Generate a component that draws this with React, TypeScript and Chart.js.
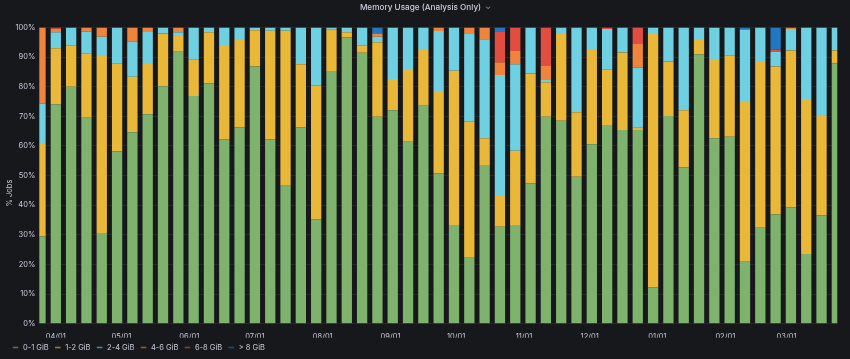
import React, { useEffect, useRef } from "react";
import { Chart, registerables } from "chart.js";

Chart.register(...registerables);

const TITLE = "Memory Usage (Analysis Only)";
const Y_TITLE = "% Jobs";

const WEEKS = [
  "2022-03-25", "2022-04-01", "2022-04-08", "2022-04-15", "2022-04-22", "2022-04-29",
  "2022-05-06", "2022-05-13", "2022-05-20", "2022-05-27", "2022-06-03", "2022-06-10",
  "2022-06-17", "2022-06-24", "2022-07-01", "2022-07-08", "2022-07-15", "2022-07-22",
  "2022-07-29", "2022-08-05", "2022-08-12", "2022-08-19", "2022-08-26", "2022-09-02",
  "2022-09-09", "2022-09-16", "2022-09-23", "2022-09-30", "2022-10-07", "2022-10-14",
  "2022-10-21", "2022-10-28", "2022-11-04", "2022-11-11", "2022-11-18", "2022-11-25",
  "2022-12-02", "2022-12-09", "2022-12-16", "2022-12-23", "2022-12-30", "2023-01-06",
  "2023-01-13", "2023-01-20", "2023-01-27", "2023-02-03", "2023-02-10", "2023-02-17",
  "2023-02-24", "2023-03-03", "2023-03-10", "2023-03-17", "2023-03-24",
];

const MONTH_TICKS = [
  "2022-04-01", "2022-05-01", "2022-06-01", "2022-07-01", "2022-08-01", "2022-09-01",
  "2022-10-01", "2022-11-01", "2022-12-01", "2023-01-01", "2023-02-01", "2023-03-01",
];
const MONTH_LABELS = ["04/01", "05/01", "06/01", "07/01", "08/01", "09/01", "10/01", "11/01", "12/01", "01/01", "02/01", "03/01"];

const SERIES_NAMES = ["0-1 GiB", "1-2 GiB", "2-4 GiB", "4-6 GiB", "6-8 GiB", "> 8 GiB"];
const SERIES_COLORS = ["#7EB26D", "#EAB839", "#6ED0E0", "#EF843C", "#E24D42", "#1F78C1"];

const GIB_0_1 = [
  29.4, 74.1, 80.0, 69.5, 30.6, 58.1, 64.6, 70.7, 80.2, 91.8, 76.9, 81.2, 62.3, 66.3, 86.8, 62.3, 46.6, 66.3,
  35.3, 85.3, 96.6, 91.5, 69.9, 72.1, 61.4, 73.6, 50.8, 33.3, 22.3, 53.6, 32.7, 33.3, 47.4, 69.9, 68.5, 49.6,
  60.6, 67.1, 65.4, 65.4, 12.3, 70.1, 52.7, 91.0, 62.6, 63.1, 20.9, 32.4, 36.9, 39.3, 23.5, 36.5, 87.9,
];
const GIB_1_2 = [
  31.3, 18.9, 13.8, 21.8, 59.8, 29.8, 18.8, 17.0, 17.8, 5.3, 12.4, 17.2, 31.8, 29.5, 12.3, 36.6, 52.3, 21.3,
  45.0, 13.9, 1.8, 2.3, 25.1, 10.5, 24.6, 18.8, 27.8, 52.1, 45.9, 9.0, 10.4, 25.1, 37.1, 11.6, 29.3, 21.8,
  31.8, 18.6, 26.2, 0.9, 85.5, 18.4, 19.4, 4.8, 26.4, 27.4, 54.3, 56.3, 49.9, 52.9, 52.4, 33.6, 4.3,
];
const GIB_2_4 = [
  13.6, 5.4, 6.2, 7.3, 6.5, 12.1, 11.8, 10.8, 2.0, 1.3, 10.7, 1.6, 5.9, 4.2, 0.9, 1.1, 1.1, 12.4,
  19.7, 0.8, 1.6, 6.2, 1.9, 17.4, 14.0, 7.6, 20.2, 14.6, 29.6, 33.4, 40.9, 29.2, 15.5, 0.8, 2.2, 28.6,
  7.6, 13.8, 8.4, 20.1, 2.2, 11.5, 27.9, 4.2, 11.0, 9.5, 24.1, 11.3, 4.9, 7.3, 24.1, 29.9, 7.8,
];
const GIB_4_6 = [
  25.7, 1.2, 0, 1.4, 3.1, 0, 4.8, 1.5, 0, 1.6, 0, 0, 0, 0, 0, 0, 0, 0,
  0, 0, 0, 0, 1.1, 0, 0, 0, 1.2, 0, 2.2, 4.0, 4.3, 4.5, 0, 4.7, 0, 0,
  0, 0, 0, 8.0, 0, 0, 0, 0, 0, 0, 0, 0, 0, 0.5, 0, 0, 0,
];
const GIB_6_8 = [
  0, 0.4, 0, 0, 0, 0, 0, 0, 0, 0, 0, 0, 0, 0, 0, 0, 0, 0,
  0, 0, 0, 0, 0, 0, 0, 0, 0, 0, 0, 0, 10.2, 7.9, 0, 13.0, 0, 0,
  0, 0.5, 0, 5.6, 0, 0, 0, 0, 0, 0, 0, 0, 0.9, 0, 0, 0, 0,
];
const GIB_8_PLUS = [
  0, 0, 0, 0, 0, 0, 0, 0, 0, 0, 0, 0, 0, 0, 0, 0, 0, 0,
  0, 0, 0, 0, 2.0, 0, 0, 0, 0, 0, 0, 0, 1.5, 0, 0, 0, 0, 0,
  0, 0, 0, 0, 0, 0, 0, 0, 0, 0, 0.7, 0, 7.4, 0, 0, 0, 0,
];

const SERIES_VALUES = [GIB_0_1, GIB_1_2, GIB_2_4, GIB_4_6, GIB_6_8, GIB_8_PLUS];

const BG = "#17181c";
const TEXT = "#ccccdc";
const FONT = "Inter";

const toDay = (s: string) => Date.parse(s + "T00:00:00Z") / 86400000;

const withAlpha = (hex: string, a: number) => {
  const n = parseInt(hex.slice(1), 16);
  return `rgba(${(n >> 16) & 255},${(n >> 8) & 255},${n & 255},${a})`;
};

const overlayPlugin = {
  id: "overlay",
  afterDraw(chart: any) {
    const ctx = chart.ctx as CanvasRenderingContext2D;
    ctx.save();
    ctx.textBaseline = "middle";
    ctx.textAlign = "left";
    ctx.fillStyle = TEXT;

    // panel title + chevron
    ctx.font = `500 8.2px ${FONT}`;
    const tw = ctx.measureText(TITLE).width;
    const total = tw + 9;
    const x0 = chart.width / 2 - total / 2;
    ctx.fillText(TITLE, x0, 7.5);
    const cx = x0 + tw + 7;
    ctx.strokeStyle = TEXT;
    ctx.lineWidth = 0.8;
    ctx.beginPath();
    ctx.moveTo(cx - 1.8, 6.8);
    ctx.lineTo(cx, 8.6);
    ctx.lineTo(cx + 1.8, 6.8);
    ctx.stroke();

    // y axis title
    ctx.save();
    ctx.font = `7.5px ${FONT}`;
    ctx.translate(10, 193);
    ctx.rotate(-Math.PI / 2);
    ctx.textAlign = "center";
    ctx.fillText(Y_TITLE, 0, 0);
    ctx.restore();

    // legend
    ctx.font = `7.5px ${FONT}`;
    let x = 12.7;
    const y = 347.5;
    SERIES_NAMES.forEach((name, i) => {
      ctx.strokeStyle = withAlpha(SERIES_COLORS[i], 0.6);
      ctx.lineWidth = 1.6;
      ctx.beginPath();
      ctx.moveTo(x, y);
      ctx.lineTo(x + 5.6, y);
      ctx.stroke();
      x += 5.6 + 4.7;
      ctx.fillStyle = TEXT;
      ctx.fillText(name, x, y);
      x += ctx.measureText(name).width + 6.3;
    });
    ctx.restore();
  },
};

const bgPlugin = {
  id: "bg",
  beforeDraw(chart: any) {
    const ctx = chart.ctx;
    ctx.save();
    ctx.fillStyle = BG;
    ctx.fillRect(0, 0, chart.width, chart.height);
    ctx.restore();
  },
};

export default function App() {
  const ref = useRef<HTMLCanvasElement | null>(null);

  useEffect(() => {
    if (!ref.current) return;
    const days = WEEKS.map(toDay);
    const chart = new Chart(ref.current, {
      type: "bar",
      data: {
        datasets: SERIES_NAMES.map((name, si) => ({
          label: name,
          data: SERIES_VALUES[si].map((v, i) => ({ x: days[i], y: v })),
          backgroundColor: SERIES_COLORS[si],
          borderWidth: 0,
          categoryPercentage: 1,
          barPercentage: 0.673,
          clip: 0,
        })),
      },
      options: {
        animation: false,
        responsive: true,
        maintainAspectRatio: false,
        layout: { padding: { left: 0, right: 12.7, top: 27.5, bottom: 21.3 } },
        plugins: {
          legend: { display: false },
          title: { display: false },
          tooltip: { enabled: false },
        },
        scales: {
          x: {
            type: "linear",
            stacked: true,
            offset: false,
            min: days[0] - 0.55,
            max: days[days.length - 1] + 0.2,
            grid: { display: false, offset: false },
            border: { display: false },
            afterBuildTicks: (scale: any) => {
              scale.ticks = MONTH_TICKS.map((d) => ({ value: toDay(d) }));
            },
            ticks: {
              autoSkip: false,
              maxRotation: 0,
              color: TEXT,
              font: { family: FONT, size: 7.5 },
              padding: 0.5,
              callback: (_v: any, i: number) => MONTH_LABELS[i],
            },
            afterFit: (s: any) => {
              s.height = 14;
            },
          },
          y: {
            stacked: true,
            min: 0,
            max: 100,
            ticks: {
              stepSize: 10,
              color: TEXT,
              font: { family: FONT, size: 7.5 },
              padding: 4,
              callback: (v: any) => v + "%",
            },
            grid: { color: "rgba(204,204,220,0.09)", drawTicks: false },
            border: { display: false },
            title: { display: false },
            afterFit: (s: any) => {
              s.width = 39.3;
            },
          },
        },
      },
      plugins: [bgPlugin, overlayPlugin],
    });
    return () => chart.destroy();
  }, []);

  return (
    <div style={{ position: "absolute", left: 0, top: 0, width: 850, height: 359, background: BG }}>
      <canvas ref={ref} />
    </div>
  );
}
